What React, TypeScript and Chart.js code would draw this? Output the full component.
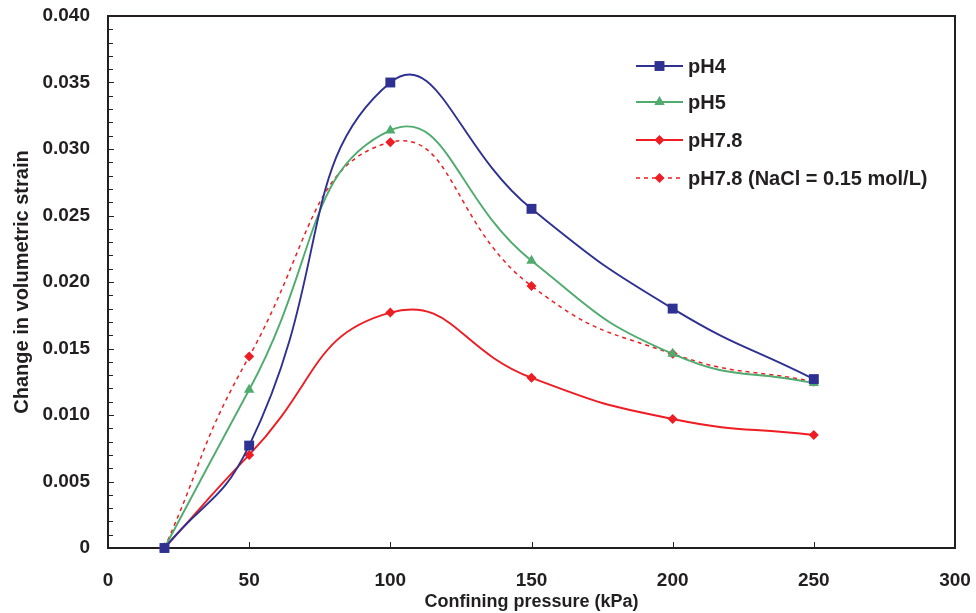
import React, { useEffect, useRef } from "react";
import { Chart, registerables } from "chart.js";

Chart.register(...registerables);

const pressures = [20, 50, 100, 150, 200, 250];
const pH4 = [0, 0.0077, 0.035, 0.0255, 0.018, 0.0127];
const pH5 = [0, 0.0119, 0.0314, 0.0216, 0.0146, 0.0124];
const pH78 = [0, 0.007, 0.0177, 0.0128, 0.0097, 0.0085];
const pH78NaCl = [0, 0.0144, 0.0305, 0.0197, 0.0146, 0.0125];
const seriesNames = ["pH4", "pH5", "pH7.8", "pH7.8 (NaCl = 0.15 mol/L)"];

const FONT = '"Liberation Sans", Arial, Helvetica, sans-serif';
const NAVY = "#2E3192";
const GREEN = "#4FAB6E";
const RED = "#EE1D23";
const AXIS = "#231F20";

function toXY(vals: number[]) {
  return pressures.map((p, i) => ({ x: p, y: vals[i] }));
}

function drawMarker(ctx: CanvasRenderingContext2D, style: string, x: number, y: number, r: number, color: string) {
  ctx.save();
  ctx.fillStyle = color;
  ctx.beginPath();
  if (style === "rect") {
    const s = r * Math.SQRT1_2;
    ctx.rect(x - s, y - s, 2 * s, 2 * s);
  } else if (style === "triangle") {
    ctx.moveTo(x, y - r);
    ctx.lineTo(x + r * 0.866, y + r * 0.5);
    ctx.lineTo(x - r * 0.866, y + r * 0.5);
    ctx.closePath();
  } else {
    ctx.moveTo(x - r, y);
    ctx.lineTo(x, y - r);
    ctx.lineTo(x + r, y);
    ctx.lineTo(x, y + r);
    ctx.closePath();
  }
  ctx.fill();
  ctx.restore();
}

const framePlugin = {
  id: "framePlugin",
  afterDraw(chart: any) {
    const ctx: CanvasRenderingContext2D = chart.ctx;
    const { left, right, top, bottom } = chart.chartArea;
    const ys = chart.scales.y;
    const xs = chart.scales.x;
    ctx.save();
    ctx.strokeStyle = AXIS;
    ctx.lineWidth = 2;
    ctx.beginPath();
    ctx.moveTo(left, top);
    ctx.lineTo(right, top);
    ctx.lineTo(right, bottom);
    ctx.stroke();
    ctx.lineWidth = 1;
    ctx.beginPath();
    for (let i = 1; i < 40; i++) {
      const y = Math.round(ys.getPixelForValue(i * 0.001)) + 0.5;
      const len = i % 5 === 0 ? 6 : 5;
      ctx.moveTo(left, y);
      ctx.lineTo(left + len, y);
    }
    for (let v = 50; v < 300; v += 50) {
      const x = Math.round(xs.getPixelForValue(v)) + 0.5;
      ctx.moveTo(x, bottom);
      ctx.lineTo(x, bottom - 6);
    }
    ctx.stroke();

    const rows = [66, 102, 140, 178];
    const lx0 = 636, lx1 = 683, tx = 688;
    chart.data.datasets.forEach((ds: any, i: number) => {
      const y = rows[i];
      ctx.save();
      ctx.strokeStyle = ds.borderColor;
      ctx.lineWidth = ds.borderWidth;
      ctx.setLineDash(ds.borderDash || []);
      ctx.beginPath();
      ctx.moveTo(lx0, y);
      ctx.lineTo(lx1, y);
      ctx.stroke();
      ctx.restore();
      drawMarker(ctx, ds.pointStyle, (lx0 + lx1) / 2, y, ds.pointRadius, ds.pointBackgroundColor);
      ctx.fillStyle = AXIS;
      ctx.font = `bold 20px ${FONT}`;
      ctx.textBaseline = "middle";
      ctx.textAlign = "left";
      ctx.fillText(ds.label, tx, y + 1);
    });
    ctx.restore();
  },
};

export default function App() {
  const ref = useRef<HTMLCanvasElement | null>(null);
  useEffect(() => {
    if (!ref.current) return;
    const mk = (label: string, vals: number[], color: string, style: string, r: number, dash?: number[]) => ({
      label,
      data: toXY(vals),
      borderColor: color,
      backgroundColor: color,
      pointBackgroundColor: color,
      pointBorderColor: color,
      pointBorderWidth: 0,
      pointStyle: style,
      pointRadius: r,
      borderWidth: dash ? 1.5 : 1.9,
      borderDash: dash || [],
      tension: 0.5,
      clip: false as any,
    });
    const chart = new Chart(ref.current, {
      type: "line",
      data: {
        datasets: [
          mk(seriesNames[0], pH4, NAVY, "rect", 7),
          mk(seriesNames[1], pH5, GREEN, "triangle", 6),
          mk(seriesNames[2], pH78, RED, "rectRot", 5),
          mk(seriesNames[3], pH78NaCl, RED, "rectRot", 5, [4, 4]),
        ] as any,
      },
      options: {
        animation: false,
        responsive: false,
        maintainAspectRatio: false,
        layout: { padding: { top: 16, right: 21, left: 0, bottom: 0 } },
        plugins: { legend: { display: false }, tooltip: { enabled: false } },
        scales: {
          x: {
            type: "linear",
            min: 0,
            max: 300,
            ticks: {
              stepSize: 50,
              color: AXIS,
              font: { family: FONT, size: 19, weight: "bold" },
              padding: 21,
              maxRotation: 0,
            },
            grid: { display: false, drawTicks: false },
            border: { display: true, color: AXIS, width: 2 },
            title: {
              display: true,
              text: "Confining pressure (kPa)",
              color: AXIS,
              font: { family: FONT, size: 18, weight: "bold" },
              padding: { top: 0, bottom: 0 },
            },
            afterFit(scale: any) {
              scale.height = 65;
              scale.paddingLeft = 0;
              scale.paddingRight = 0;
            },
          },
          y: {
            type: "linear",
            min: 0,
            max: 0.04,
            ticks: {
              stepSize: 0.005,
              color: AXIS,
              font: { family: FONT, size: 19, weight: "bold" },
              padding: 18,
              callback: (v: any) => (Number(v) === 0 ? "0" : Number(v).toFixed(3)),
            },
            grid: { display: false, drawTicks: false },
            border: { display: true, color: AXIS, width: 2 },
            title: {
              display: true,
              text: "Change in volumetric strain",
              color: AXIS,
              font: { family: FONT, size: 20, weight: "bold" },
              padding: { top: 10, bottom: 0 },
            },
            afterFit(scale: any) {
              scale.width = 108;
              scale.paddingTop = 0;
              scale.paddingBottom = 0;
            },
          },
        },
      } as any,
      plugins: [framePlugin],
    });
    return () => chart.destroy();
  }, []);
  return (
    <div style={{ position: "fixed", left: 0, top: 0, width: 976, height: 613, background: "#fff" }}>
      <canvas ref={ref} width={976} height={613} style={{ width: 976, height: 613 }} />
    </div>
  );
}
